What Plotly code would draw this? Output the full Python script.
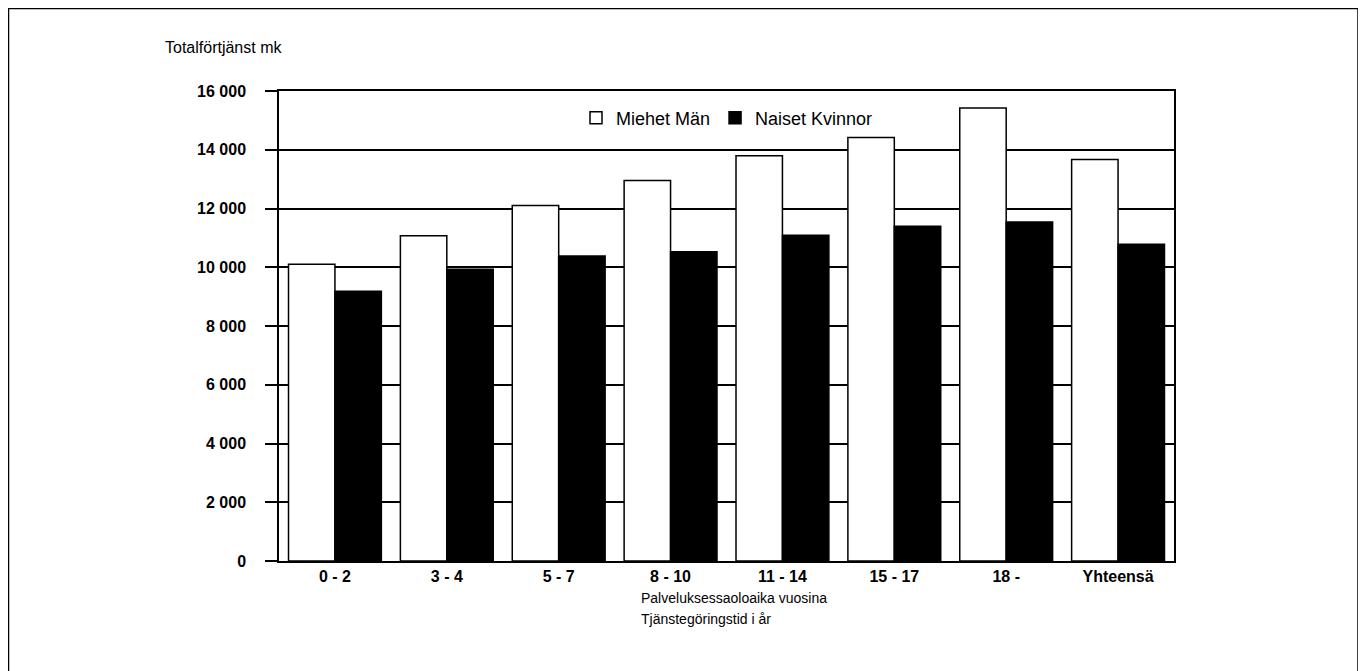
import plotly.graph_objects as go

categories = ["0 - 2", "3 - 4", "5 - 7", "8 - 10", "11 - 14", "15 - 17", "18 -", "Yhteensä"]
miehet = [10100, 11070, 12100, 12950, 13800, 14420, 15420, 13670]
naiset = [9180, 9930, 10380, 10530, 11090, 11400, 11540, 10780]
y_ticks = [0, 2000, 4000, 6000, 8000, 10000, 12000, 14000, 16000]
y_tick_labels = ["0", "2 000", "4 000", "6 000", "8 000", "10 000", "12 000", "14 000", "16 000"]

FONT = "Liberation Sans, Arial, sans-serif"

# the page places the figure 8 px from the top-left corner
OFF = 8
W, H = 1366 - OFF, 671 - OFF
L, R, T, B = 279 - OFF, 1174 - OFF, 91 - OFF, 561 - OFF
pw, ph = R - L, B - T


def px(x):
    return (x - OFF - L) / pw


def py(y):
    return (B - (y - OFF)) / ph


fig = go.Figure()
fig.add_trace(go.Bar(x=categories, y=miehet, name="Miehet Män",
                     marker=dict(color="white", line=dict(color="black", width=1.5))))
fig.add_trace(go.Bar(x=categories, y=naiset, name="Naiset Kvinnor",
                     marker=dict(color="black", line=dict(color="black", width=1.5))))

fig.update_layout(
    width=W, height=H,
    margin=dict(l=L, r=W - R, t=T, b=H - B, pad=0),
    paper_bgcolor="white", plot_bgcolor="white",
    barmode="group", bargap=0.17, bargroupgap=0.0,
    font=dict(family=FONT, color="black", size=16),
    showlegend=True,
    legend=dict(orientation="h", x=px(727), y=py(118), xanchor="center", yanchor="middle",
                font=dict(size=18, family=FONT), bgcolor="rgba(0,0,0,0)",
                itemwidth=30, traceorder="normal"),
    xaxis=dict(showline=True, linecolor="black", linewidth=1.5, mirror=True,
               ticks="", tickfont=dict(size=16, family=FONT, weight="bold"),
               showgrid=False),
    yaxis=dict(range=[0, 16000], tickvals=y_ticks, ticktext=y_tick_labels,
               showline=True, linecolor="black", linewidth=1.5, mirror=True,
               ticks="outside", ticklen=12, tickwidth=1.5, tickcolor="black",
               ticklabelstandoff=16,
               showgrid=True, gridcolor="black", gridwidth=1.5,
               tickfont=dict(size=16, family=FONT, weight="bold"), zeroline=False),
    annotations=[
        dict(text="Totalförtjänst mk", xref="paper", yref="paper", x=px(163), y=py(47),
             xanchor="left", yanchor="middle", showarrow=False, font=dict(size=16, family=FONT)),
        dict(text="Palveluksessaoloaika vuosina", xref="paper", yref="paper",
             x=px(639), y=py(598), xanchor="left", yanchor="middle", showarrow=False,
             font=dict(size=14, family=FONT)),
        dict(text="Tjänstegöringstid i år", xref="paper", yref="paper",
             x=px(639), y=py(619), xanchor="left", yanchor="middle", showarrow=False,
             font=dict(size=14, family=FONT)),
    ],
    shapes=[
        dict(type="rect", xref="paper", yref="paper", x0=px(8.5), x1=px(1358), y0=py(700), y1=py(8.5),
             line=dict(color="black", width=1.5), fillcolor="rgba(0,0,0,0)", layer="below"),
    ],
)

fig.write_html("out.html")
